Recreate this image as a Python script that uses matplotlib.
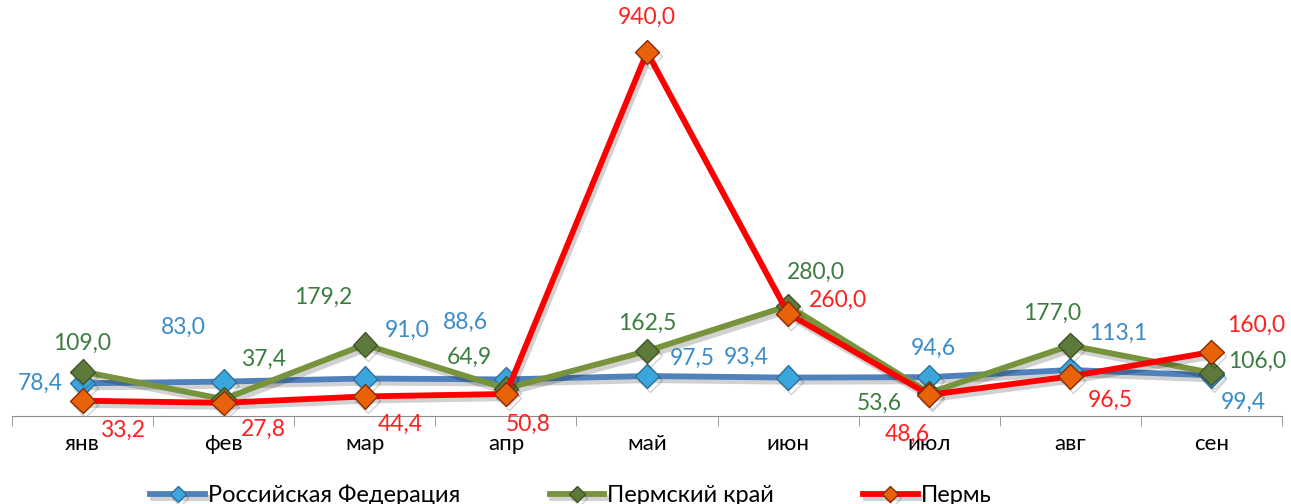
import matplotlib.pyplot as plt
import matplotlib.patheffects as pe

months = ['янв', 'фев', 'мар', 'апр', 'май', 'июн', 'июл', 'авг', 'сен']
rf = [78.4, 83.0, 91.0, 88.6, 97.5, 93.4, 94.6, 113.1, 99.4]
krai = [109.0, 37.4, 179.2, 64.9, 162.5, 280.0, 53.6, 177.0, 106.0]
perm = [33.2, 27.8, 44.4, 50.8, 940.0, 260.0, 48.6, 96.5, 160.0]

# label offsets in pixels (dx, dy up)
off_rf = [(-42, 0), (-40, 54), (42, 48), (-40, 57), (45, 18), (-42, 20), (4, 29), (48, 37), (32, -27)]
off_krai = [(0, 28), (40, 40), (-42, 47), (-37, 31), (0, 28), (28, 33), (-50, -10), (-18, 32), (46, 11)]
off_perm = [(40, -30), (40, -27), (35, -28), (22, -30), (0, 35), (50, 13), (-22, -40), (40, -24), (45, 27)]

plt.rcParams['font.family'] = ['Lato', 'Noto Sans', 'DejaVu Sans']

fig = plt.figure(figsize=(12.91, 5.04), dpi=100)
ax = fig.add_axes([12 / 1291, 88 / 504, 1270 / 1291, 387 / 504])

x = range(len(months))
series = [
    ('Российская Федерация', rf, off_rf, '#4f81bd', '#3aa6dc', '#2f6f9e', '#3a8cc8'),
    ('Пермский край', krai, off_krai, '#77933c', '#5e7a3a', '#3f5428', '#3b7d3f'),
    ('Пермь', perm, off_perm, '#ff0000', '#e8620a', '#8a2c05', '#ff1f1f'),
]
shadow = [pe.SimpleLineShadow(offset=(2, -3), alpha=0.18), pe.Normal()]
for name, vals, offs, lc, mc, ec, tc in series:
    ax.plot(x, vals, color=lc, lw=4.2, marker='D', ms=12.5, mfc=mc, mec=ec, mew=1,
            label=name, path_effects=shadow, zorder=3)
    for i, v in enumerate(vals):
        dx, dy = offs[i]
        ax.annotate(f'{v:.1f}'.replace('.', ','), (i, v), xytext=(dx * 0.72, dy * 0.72),
                    textcoords='offset points', ha='center', va='center',
                    fontsize=16.5, color=tc, zorder=5)

ax.set_xlim(-0.5, 8.5)
ax.set_ylim(-6.5, 1000)
ax.set_yticks([])
for s in ['top', 'right', 'left']:
    ax.spines[s].set_visible(False)
ax.spines['bottom'].set_color('#8c8c8c')
ax.set_xticks(list(x))
ax.set_xticklabels(months, fontsize=16)
ax.set_xticks([i - 0.5 for i in range(len(months) + 1)], minor=True)
ax.tick_params(axis='x', which='major', length=0, pad=13)
ax.tick_params(axis='x', which='minor', length=7, color='#8c8c8c')

ax.legend(loc='center', bbox_to_anchor=(0.44, -0.205), ncol=3, frameon=False,
          fontsize=17, handlelength=2.3, columnspacing=3.8, handletextpad=0.12,
          markerscale=0.65)

fig.savefig('out.png', dpi=100)
